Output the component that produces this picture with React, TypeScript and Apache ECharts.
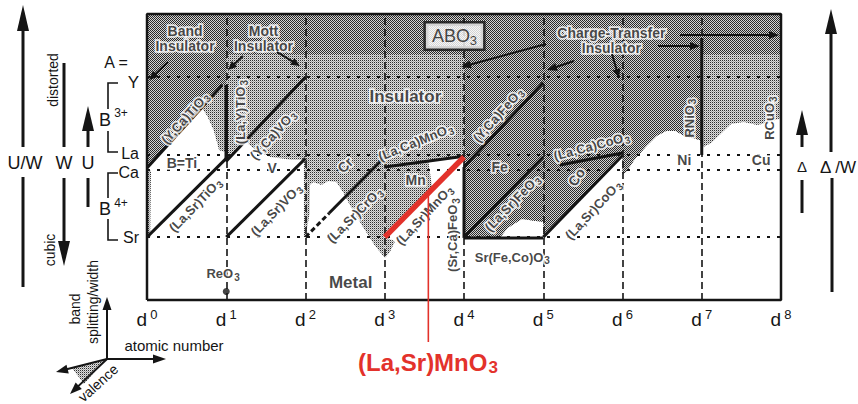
import React, { useEffect, useRef } from "react";
import * as echarts from "echarts";

const FONT = '"Liberation Sans", Arial, Helvetica, sans-serif';
const INK = "#151515";
const RED = "#e3322b";

// x: number of d electrons, y: relative band splitting / width level
const D_TICKS = [0, 1, 2, 3, 4, 5, 6, 7, 8];
const A_SITE_NAMES = ["Sr", "Ca", "La", "Y"];
const A_SITE_LEVELS = [22, 45.5, 50.7, 78];

// boundary lines of the mixed-valence systems, [d, level]
const yCaTiO3 = [[0, 46.2], [0.95, 75.2]];
const laSrTiO3 = [[0, 22], [1, 49.5]];
const laYTiO3 = [[1, 48.5], [1, 75.2]];
const yCaVO3 = [[1, 48.5], [2, 78]];
const laSrVO3 = [[1, 22], [2, 49.5]];
const laSrCrO3Lower = [[2, 22], [2.3, 30.4]];
const laSrCrO3Upper = [[2.3, 30.4], [3, 50]];
const laCaMnO3 = [[3, 46.5], [4, 50.3]];
const laSrMnO3 = [[3, 22], [4, 50]];
const yCaFeO3 = [[4, 46.5], [5, 76]];
const srCaFeO3 = [[4, 21.7], [4, 46.5]];
const srFeCoO3 = [[4, 21.7], [5, 21.7]];
const laSrFeO3 = [[4, 22], [5, 50]];
const laCaCoO3 = [[5.21, 47.2], [6, 51.4]];
const laSrCoO3 = [[5, 22], [6, 50.5]];
const rNiO3 = [[7, 50.7], [7, 91.6]];
const reO3 = [[1, 3]];

// insulating regions (stippled)
const insulatorRegions = [
  [[0, 100], [1, 100], [1, 75.2], [0.95, 75.2], [0, 46.2]],
  [[0.67, 68.2], [0.95, 75.2], [1, 75.2], [1, 51.7], [0.91, 52.4], [0.84, 59.4], [0.76, 64.3]],
  [[0, 46.2], [0.05, 45], [0.04, 22], [0, 22]],
  [[1, 100], [2, 100], [2, 78], [1, 48.5]],
  [[1.24, 55.6], [2, 78], [2, 49], [1.82, 49], [1.56, 50], [1.37, 52.4]],
  [[1.98, 49], [2.06, 46], [2.05, 30], [2, 22], [1.98, 22]],
  [[2, 100], [3, 100], [3, 14.7], [2.87, 19.2], [2.71, 26.2], [2.56, 33.2], [2.48, 37.4], [2.39, 41.3], [2.29, 41.6], [2.2, 40.2], [2.1, 41.3], [2, 39.2]],
  [[3, 100], [4, 100], [4, 50.3], [3, 46.5]],
  [[3, 22], [3, 46.5], [3.55, 48.6], [3.6, 38.8]],
  [[3, 22], [3.13, 20.5], [3.06, 16.5], [3, 14.7]],
  [[4, 100], [5, 100], [5, 27.3], [4.73, 28.3], [4.55, 25.2], [4.45, 21.7], [4, 21.7]],
  [[5, 22], [5, 100], [8, 100], [8, 63.6], [7.86, 62.2], [7.7, 61.2], [7.53, 62.2], [7.37, 61.5], [7.25, 58.4], [7.12, 54.9], [7.02, 53.5], [7, 52.5], [6.98, 55.9], [6.88, 56.6], [6.78, 57.3], [6.67, 59.1], [6.55, 59.1], [6.43, 57.3], [6.3, 53.8], [6.15, 49], [6.05, 44.8], [6, 44], [6, 50.5]],
];

// denser stipple
const denseRegions = [
  [[0, 100], [1, 100], [1, 75.2], [0.95, 75.2], [0, 46.2]],
  [[1, 100], [8, 100], [8, 86], [1, 86]],
  [[4, 86], [7, 86], [7, 52.5], [6.98, 55.9], [6.88, 56.6], [6.78, 57.3], [6.67, 59.1], [6.55, 59.1], [6.43, 57.3], [6.3, 53.8], [6.15, 49], [6.05, 44.8], [6, 44], [6, 50.5], [5, 22], [5, 27.3], [4.73, 28.3], [4.55, 25.2], [4.45, 21.7], [4, 21.7]],
];

const compoundLabels = [
  { name: "(Y,Ca)TiO", sub: "3", at: [0.48, 63.6], angle: 48 },
  { name: "(La,Y)TiO", sub: "3", at: [1.18, 65.7], angle: 90 },
  { name: "(La,Sr)TiO", sub: "3", at: [0.61, 33.2], angle: 46 },
  { name: "(Y,Ca)VO", sub: "3", at: [1.59, 57.7], angle: 48 },
  { name: "(La,Sr)VO", sub: "3", at: [1.63, 31.5], angle: 46 },
  { name: "(La,Sr)CrO", sub: "3", at: [2.62, 29.7], angle: 45 },
  { name: "(La,Ca)MnO", sub: "3", at: [3.39, 55.2], angle: 22 },
  { name: "(La,Sr)MnO", sub: "3", at: [3.5, 29.7], angle: 47 },
  { name: "(Sr,Ca)FeO", sub: "3", at: [3.86, 22.7], angle: 90 },
  { name: "(Y,Ca)FeO", sub: "3", at: [4.43, 64.7], angle: 48 },
  { name: "(La,Sr)FeO", sub: "3", at: [4.61, 33.9], angle: 46 },
  { name: "(La,Ca)CoO", sub: "3", at: [5.61, 53.8], angle: 15 },
  { name: "(La,Sr)CoO", sub: "3", at: [5.63, 31.5], angle: 47 },
  { name: "Sr(Fe,Co)O", sub: "3", at: [4.61, 15], angle: 0 },
  { name: "RNiO", sub: "3", at: [6.84, 63.6], angle: 90 },
  { name: "RCuO", sub: "3", at: [7.86, 63.6], angle: 90 },
  { name: "ReO", sub: "3", at: [0.96, 9.1], angle: 0 },
];

const elementLabels = [
  { name: "B=Ti", at: [0.44, 47.9], angle: 0 },
  { name: "V", at: [1.58, 46.2], angle: 0 },
  { name: "Cr", at: [2.5, 47.2], angle: 45 },
  { name: "Mn", at: [3.39, 42], angle: 0 },
  { name: "Fe", at: [4.45, 46.5], angle: 0 },
  { name: "Co", at: [5.42, 43], angle: 55 },
  { name: "Ni", at: [6.78, 49], angle: 0 },
  { name: "Cu", at: [7.75, 49], angle: 0 },
];

const regionLabels = [
  { name: "Band\nInsulator", at: [0.48, 91.6], size: 14, bold: true },
  { name: "Mott\nInsulator", at: [1.47, 91.6], size: 14, bold: true },
  { name: "Charge-Transfer\nInsulator", at: [5.86, 90.9], size: 14, bold: true },
  { name: "Insulator", at: [3.26, 71], size: 17, bold: true },
  { name: "Metal", at: [2.57, 6], size: 17, bold: true },
];

function makePattern(cells: string[][]) {
  const c = document.createElement("canvas");
  c.width = cells[0].length;
  c.height = cells.length;
  const ctx = c.getContext("2d")!;
  cells.forEach((row, y) =>
    row.forEach((col, x) => {
      ctx.fillStyle = col;
      ctx.fillRect(x, y, 1, 1);
    })
  );
  return { image: c, repeat: "repeat", imageWidth: c.width, imageHeight: c.height } as any;
}

function arrow(x1: number, y1: number, x2: number, y2: number, lw = 2, hl = 10, hw = 4.5, color = INK) {
  const a = Math.atan2(y2 - y1, x2 - x1);
  const bx = x2 - hl * Math.cos(a);
  const by = y2 - hl * Math.sin(a);
  const px = -Math.sin(a) * hw;
  const py = Math.cos(a) * hw;
  return [
    { type: "line", z: 100, shape: { x1, y1, x2: bx + Math.cos(a) * 2, y2: by + Math.sin(a) * 2 }, style: { stroke: color, lineWidth: lw } },
    { type: "polygon", z: 100, shape: { points: [[x2, y2], [bx + px, by + py], [bx - px, by - py]] }, style: { fill: color } },
  ];
}

function seg(x1: number, y1: number, x2: number, y2: number, lw = 3, color = INK) {
  return { type: "line", z: 100, shape: { x1, y1, x2, y2 }, style: { stroke: color, lineWidth: lw } };
}

function label(x: number, y: number, text: string, size = 16, rotateDeg = 0, extra: any = {}) {
  return {
    type: "text",
    z: 100,
    x,
    y,
    rotation: (rotateDeg * Math.PI) / 180,
    style: {
      text,
      fill: INK,
      fontSize: size,
      fontFamily: FONT,
      align: "center",
      verticalAlign: "middle",
      ...extra,
    },
  };
}

// builds the in-plot text items; the halo pass draws a white knock-out under the ink pass
function buildLabelItems(halo: boolean) {
  const color = halo ? "#fff" : INK;
  const border = halo ? { textBorderColor: "#fff", textBorderWidth: 3.5 } : { textBorderWidth: 0 };
  return [
    ...compoundLabels.map((l) => ({
      value: l.at,
      label: {
        show: true,
        position: "inside",
        rotate: l.angle,
        formatter: `{n|${l.name}}{s|${l.sub}}`,
        rich: {
          n: { fontSize: 13, fontWeight: "bold", fontFamily: FONT, color, ...border },
          s: { fontSize: 10, fontWeight: "bold", fontFamily: FONT, color, padding: [7, 0, 0, 1], ...border },
        },
      },
    })),
    ...elementLabels.map((l) => ({
      value: l.at,
      label: {
        show: true,
        position: "inside",
        rotate: l.angle,
        formatter: l.name,
        fontSize: 14,
        fontWeight: "bold",
        fontFamily: FONT,
        color,
        ...border,
      },
    })),
    ...regionLabels.map((l) => ({
      value: l.at,
      label: {
        show: true,
        position: "inside",
        formatter: l.name,
        fontSize: l.size,
        lineHeight: l.size + 1,
        fontWeight: l.bold ? "bold" : "normal",
        fontFamily: FONT,
        color,
        ...border,
      },
    })),
  ];
}

export default function App() {
  const ref = useRef<HTMLDivElement>(null);

  useEffect(() => {
    if (!ref.current) return;
    const chart = echarts.init(ref.current, undefined, { renderer: "svg" });

    const light = makePattern([
      ["#2e2e2e", "#dedede"],
      ["#dedede", "#a4a4a4"],
    ]);
    const dense = makePattern([
      ["#252525", "#d4d4d4"],
      ["#d4d4d4", "#2e2e2e"],
    ]);

    const polygonSeries = (regions: number[][][], fill: any, z: number) => ({
      type: "custom",
      z,
      silent: true,
      clip: false,
      data: regions.map((r) => r[0]),
      renderItem: (params: any, api: any) => ({
        type: "polygon",
        shape: { points: regions[params.dataIndex].map((p) => api.coord(p)) },
        style: { fill },
      }),
    });

    const lineSeries = (pts: number[][], color = INK, width = 3, type: any = "solid", z = 5) => ({
      type: "line",
      data: pts,
      symbol: "none",
      clip: false,
      silent: true,
      z,
      lineStyle: { color, width, type, cap: "butt" },
    });

    const textSeries = (items: any[], z: number) => ({
      type: "scatter",
      data: items,
      symbolSize: 1,
      itemStyle: { color: "rgba(0,0,0,0)" },
      z,
      silent: true,
    });

    const option: any = {
      animation: false,
      grid: { left: 147, top: 14, width: 634, height: 286 },
      xAxis: {
        type: "value",
        min: 0,
        max: 8,
        interval: 1,
        axisLine: { show: false },
        axisTick: { show: false },
        splitLine: { show: false },
        axisLabel: {
          margin: 8,
          formatter: (v: number) => (D_TICKS.includes(v) ? `{d|d}{s|${v}}` : ""),
          rich: {
            d: { fontSize: 19, fontFamily: FONT, color: INK },
            s: { fontSize: 13, fontFamily: FONT, color: INK, padding: [0, 0, 9, 3] },
          },
        },
      },
      yAxis: {
        type: "value",
        min: 0,
        max: 100,
        axisLine: { show: false },
        axisTick: { show: false },
        splitLine: { show: false },
        axisLabel: {
          customValues: A_SITE_LEVELS,
          margin: 8,
          formatter: (v: number) => {
            const i = A_SITE_LEVELS.indexOf(v);
            if (i < 0) return "";
            return `{${A_SITE_NAMES[i]}|${A_SITE_NAMES[i]}}`;
          },
          rich: {
            Sr: { fontSize: 16, fontFamily: FONT, color: INK },
            Ca: { fontSize: 16, fontFamily: FONT, color: INK, padding: [5, 0, 0, 0] },
            La: { fontSize: 16, fontFamily: FONT, color: INK, padding: [0, 0, 3, 0] },
            Y: { fontSize: 17, fontFamily: FONT, color: INK, padding: [12, 0, 0, 0] },
          },
        },
      },
      series: [
        polygonSeries(insulatorRegions, light, 1),
        polygonSeries(denseRegions, dense, 2),
        {
          type: "line",
          data: [],
          z: 3,
          silent: true,
          markLine: {
            silent: true,
            symbol: ["none", "none"],
            label: { show: false },
            animation: false,
            data: [
              ...D_TICKS.slice(1, 8).map((v) => ({ xAxis: v, lineStyle: { color: INK, width: 1.6, type: [7, 4] } })),
              ...A_SITE_LEVELS.map((v) => ({ yAxis: v, lineStyle: { color: INK, width: 1.8, type: [3, 7] } })),
            ],
          },
        },
        lineSeries(yCaTiO3),
        lineSeries(laSrTiO3),
        lineSeries(laYTiO3, INK, 3.5),
        lineSeries(yCaVO3),
        lineSeries(laSrVO3),
        lineSeries(laSrCrO3Lower, INK, 3, [5, 3]),
        lineSeries(laSrCrO3Upper),
        lineSeries(laCaMnO3),
        lineSeries(yCaFeO3),
        lineSeries(srCaFeO3),
        lineSeries(srFeCoO3),
        lineSeries(laSrFeO3),
        lineSeries(laCaCoO3),
        lineSeries(laSrCoO3),
        lineSeries(rNiO3),
        lineSeries(laSrMnO3, RED, 5.5, "solid", 6),
        // outer frame of the diagram
        lineSeries([[0, 0], [8, 0], [8, 100], [0, 100], [0, 0]], INK, 2.5, "solid", 7),
        {
          type: "scatter",
          data: reO3,
          symbol: "circle",
          symbolSize: 7,
          itemStyle: { color: INK },
          z: 8,
          silent: true,
        },
        textSeries(buildLabelItems(true), 9),
        textSeries(buildLabelItems(false), 10),
        textSeries(
          [
            {
              value: [3.88, 92.3],
              label: {
                show: true,
                position: "inside",
                formatter: "{n|ABO}{s|3}",
                backgroundColor: "#fff",
                borderColor: INK,
                borderWidth: 2.5,
                padding: [2, 6, 2, 6],
                rich: {
                  n: { fontSize: 18, fontFamily: FONT, color: INK },
                  s: { fontSize: 13, fontFamily: FONT, color: INK, padding: [8, 0, 0, 0] },
                },
              },
            },
          ],
          11
        ),
      ],
    };

    chart.setOption(option);

    // callout for the highlighted compound, anchored on its line
    const t = 0.55;
    const mid = [
      laSrMnO3[0][0] + t * (laSrMnO3[1][0] - laSrMnO3[0][0]),
      laSrMnO3[0][1] + t * (laSrMnO3[1][1] - laSrMnO3[0][1]),
    ];
    const mp = chart.convertToPixel({ gridIndex: 0 }, mid) as number[];

    const graphics: any[] = [
      // left-hand scales
      { type: "polygon", z: 100, shape: { points: [[23, 5], [17, 31], [29, 31]] }, style: { fill: INK } },
      seg(23, 29, 23, 147),
      label(25, 163, "U/W", 18),
      seg(23, 177, 23, 287),

      seg(64, 63, 64, 147),
      label(64, 163, "W", 18),
      seg(64, 178, 64, 244),
      { type: "polygon", z: 100, shape: { points: [[64, 266], [58, 241], [70, 241]] }, style: { fill: INK } },
      label(53, 80, "distorted", 14, 90),
      label(50, 250, "cubic", 14, 90),

      { type: "polygon", z: 100, shape: { points: [[88, 106], [82, 131], [94, 131]] }, style: { fill: INK } },
      seg(88, 129, 88, 147),
      label(88, 163, "U", 18),
      seg(88, 178, 88, 207),

      label(116, 62, "A =", 16),
      { type: "polyline", z: 100, shape: { points: [[118, 83], [108, 83], [108, 109]] }, style: { stroke: INK, lineWidth: 1.6, fill: null } },
      { type: "polyline", z: 100, shape: { points: [[108, 131], [108, 152], [118, 152]] }, style: { stroke: INK, lineWidth: 1.6, fill: null } },
      label(105, 120, "B", 18),
      label(121, 113, "3+", 12),
      { type: "polyline", z: 100, shape: { points: [[118, 173], [108, 173], [108, 198]] }, style: { stroke: INK, lineWidth: 1.6, fill: null } },
      { type: "polyline", z: 100, shape: { points: [[108, 219], [108, 240], [118, 240]] }, style: { stroke: INK, lineWidth: 1.6, fill: null } },
      label(105, 209, "B", 18),
      label(121, 203, "4+", 12),

      // small axes key
      ...arrow(107, 359, 107, 297, 2, 13, 4.5),
      ...arrow(107, 359, 166, 359, 2, 13, 4.5),
      { type: "polygon", z: 99, shape: { points: [[105, 360], [72, 368], [84, 384]] }, style: { fill: light } },
      ...arrow(107, 359, 56, 372, 2, 12, 4.5),
      ...arrow(107, 359, 70, 394, 2, 12, 4.5),
      label(75, 309, "band", 14, 90),
      label(93, 302, "splitting/width", 14, 90),
      label(174, 345, "atomic number", 15),
      label(98, 383, "valence", 14, 42),

      // right-hand scales
      { type: "polygon", z: 100, shape: { points: [[802, 110], [796, 135], [808, 135]] }, style: { fill: INK } },
      seg(802, 133, 802, 147),
      label(802, 166, "Δ", 15),
      seg(802, 180, 802, 213),
      { type: "polygon", z: 100, shape: { points: [[831, 9], [825, 34], [837, 34]] }, style: { fill: INK } },
      seg(831, 32, 831, 152),
      label(838, 167, "Δ /W", 17),
      seg(832, 178, 832, 292),

      // pointers from the region names
      ...arrow(168, 62, 149, 80, 2, 9, 4),
      ...arrow(243, 56, 228, 70, 2, 9, 4),
      ...arrow(277, 52, 300, 66, 2, 9, 4),
      ...arrow(546, 44, 461, 67, 2, 10, 4),
      ...arrow(574, 61, 547, 70, 2, 10, 4),
      ...arrow(612, 54, 619, 78, 2, 9, 4),
      ...arrow(658, 46, 700, 46, 2, 10, 4),
      ...arrow(680, 35, 779, 35, 2, 10, 4),

      // highlighted compound callout
      seg(mp[0], mp[1], mp[0], 342, 1.6, RED),
      {
        type: "text",
        z: 100,
        x: 428,
        y: 362,
        style: {
          text: "{n|(La,Sr)MnO}{s|3}",
          align: "center",
          verticalAlign: "middle",
          rich: {
            n: { fontSize: 24, fontWeight: "bold", fontFamily: FONT, fill: RED },
            s: { fontSize: 17, fontWeight: "bold", fontFamily: FONT, fill: RED, padding: [11, 0, 0, 1] },
          },
        },
      },
    ];

    chart.setOption({ graphic: { elements: graphics } });

    return () => chart.dispose();
  }, []);

  return (
    <div
      ref={ref}
      style={{ position: "fixed", left: 0, top: 0, width: 858, height: 404, background: "#fff" }}
    />
  );
}
